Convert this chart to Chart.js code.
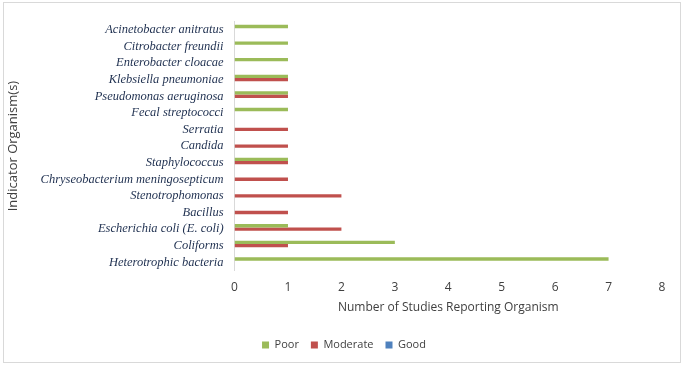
<!DOCTYPE html>
<html>
<head>
<meta charset="utf-8">
<script src="https://cdn.jsdelivr.net/npm/chart.js@4.4.0/dist/chart.umd.min.js"></script>
<style>
    body { margin: 0; background: #fff; }
    #wrap {
        position: absolute; left: 3px; top: 2px;
        width: 676px; height: 359px;
        border: 1px solid #d9d9d9;
    }
</style>
</head>
<body>
<div id="wrap"><canvas id="chart"></canvas></div>
<script>
const organisms = [
    'Acinetobacter anitratus',
    'Citrobacter freundii',
    'Enterobacter cloacae',
    'Klebsiella pneumoniae',
    'Pseudomonas aeruginosa',
    'Fecal streptococci',
    'Serratia',
    'Candida',
    'Staphylococcus',
    'Chryseobacterium meningosepticum',
    'Stenotrophomonas',
    'Bacillus',
    'Escherichia coli (E. coli)',
    'Coliforms',
    'Heterotrophic bacteria'
];
const poor     = [1, 1, 1, 1, 1, 1, 0, 0, 1, 0, 0, 0, 1, 3, 7];
const moderate = [0, 0, 0, 1, 1, 0, 1, 1, 1, 1, 2, 1, 2, 1, 0];
const good     = [0, 0, 0, 0, 0, 0, 0, 0, 0, 0, 0, 0, 0, 0, 0];
const xTicks = [0, 1, 2, 3, 4, 5, 6, 7, 8];

const sans = "'Open Sans', sans-serif";
const grey = '#404040';

// nudge the legend row a little right, like the original
const legendShift = {
    id: 'legendShift',
    afterLayout(chart) {
        chart.legend.left += 11;
        chart.legend.right += 11;
    }
};

const ctx = document.getElementById('chart').getContext('2d');
new Chart(ctx, {
    type: 'bar',
    data: {
        labels: organisms,
        datasets: [
            { label: 'Poor', data: poor, backgroundColor: '#9bbb59' },
            { label: 'Moderate', data: moderate, backgroundColor: '#c0504d' },
            { label: 'Good', data: good, backgroundColor: '#4f81bd' }
        ]
    },
    plugins: [legendShift],
    options: {
        indexAxis: 'y',
        responsive: true,
        maintainAspectRatio: false,
        animation: false,
        datasets: { bar: { categoryPercentage: 0.6, barPercentage: 1.0 } },
        layout: { padding: { left: 0, right: 18, top: 15, bottom: 1.6 } },
        scales: {
            x: {
                min: 0, max: 8,
                afterBuildTicks: (axis) => { axis.ticks = xTicks.map(v => ({ value: v })); },
                grid: { display: false, drawTicks: false },
                border: { display: false },
                ticks: { color: grey, font: { family: sans, size: 12 }, padding: 9.5 },
                title: {
                    display: true,
                    text: 'Number of Studies Reporting Organism',
                    color: grey,
                    font: { family: sans, size: 12 },
                    padding: { top: -3.5, bottom: 12.5 }
                }
            },
            y: {
                grid: { display: false, drawTicks: false },
                border: { display: true, color: '#d9d9d9' },
                ticks: {
                    color: '#1f3050',
                    font: { family: "'Liberation Serif', serif", size: 12.5, style: 'italic' },
                    padding: 11,
                    autoSkip: false
                },
                title: {
                    display: true,
                    text: 'Indicator Organism(s)',
                    color: grey,
                    font: { family: sans, size: 13 },
                    padding: { top: 1, bottom: 9 }
                }
            }
        },
        plugins: {
            legend: {
                position: 'bottom',
                labels: {
                    color: grey,
                    font: { family: sans, size: 11 },
                    boxWidth: 7, boxHeight: 7,
                    padding: 12
                }
            },
            tooltip: { enabled: false }
        }
    }
});
</script>
</body>
</html>
